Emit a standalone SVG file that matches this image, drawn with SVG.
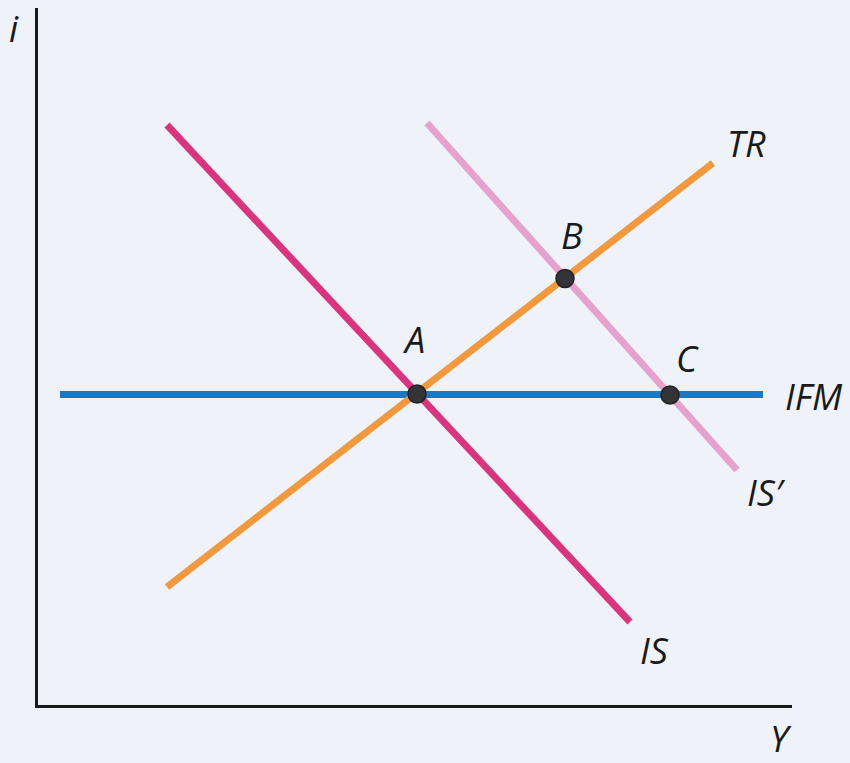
<svg xmlns="http://www.w3.org/2000/svg" width="850" height="763" viewBox="0 0 850 763">
<style>
.lbl{font-family:"Open Sans","Liberation Sans",sans-serif;font-style:italic;font-weight:400;font-size:36px;fill:#1a1a1a}
.axis{stroke:#1a1a1a;stroke-width:3;fill:none}
.curve{stroke-width:7;fill:none;stroke-linecap:butt}
.pt{fill:#333338;stroke:#222;stroke-width:1.5}
</style>
<rect width="850" height="763" fill="#eff3f9"/>
<g id="axes">
<line class="axis" x1="36.5" y1="8" x2="36.5" y2="707"/>
<line class="axis" x1="35" y1="706.5" x2="792" y2="706.5"/>
<text class="lbl" x="9" y="42">i</text>
<text class="lbl" x="770" y="752">Y</text>
</g>
<g id="connectors">
<line id="IFM-line" class="curve" x1="60" y1="394.5" x2="763" y2="394.5" stroke="#1e78c0"/>
<line id="ISp-line" class="curve" x1="427" y1="123" x2="737" y2="470" stroke="#e4a2cc"/>
<line id="TR-line" class="curve" x1="167" y1="587" x2="713" y2="163" stroke="#f0993f"/>
<line id="IS-line" class="curve" x1="167" y1="125" x2="630" y2="622" stroke="#d9357f"/>
</g>
<g id="label-TR"><text class="lbl" x="727" y="157">TR</text></g>
<g id="label-IFM"><text class="lbl" x="785" y="410">IFM</text></g>
<g id="label-ISp"><text class="lbl" x="747" y="506">IS′</text></g>
<g id="label-IS"><text class="lbl" x="640" y="664">IS</text></g>
<g id="point-A"><circle class="pt" cx="417" cy="394" r="9"/><text class="lbl" x="405" y="353">A</text></g>
<g id="point-B"><circle class="pt" cx="565" cy="278.5" r="9"/><text class="lbl" x="561" y="249">B</text></g>
<g id="point-C"><circle class="pt" cx="670" cy="395" r="9"/><text class="lbl" x="676" y="372">C</text></g>
</svg>
